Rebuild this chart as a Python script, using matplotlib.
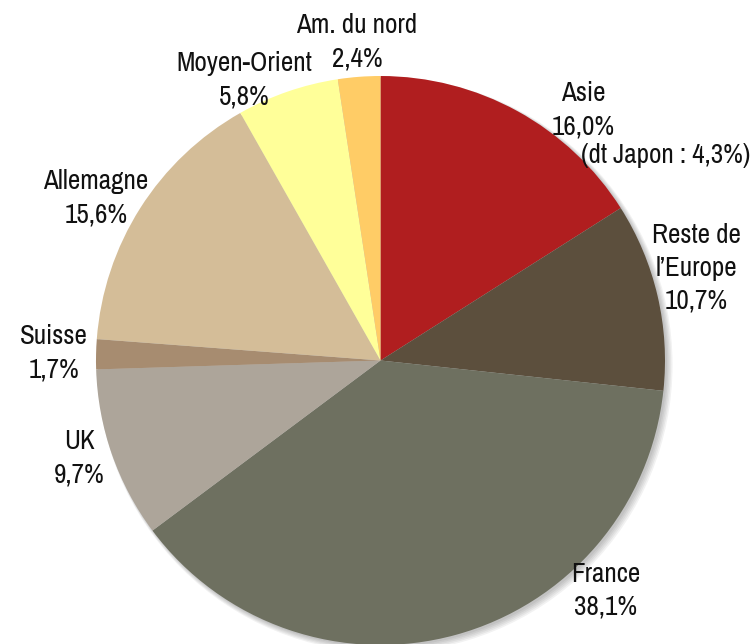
import matplotlib
matplotlib.use("Agg")
import matplotlib.pyplot as plt
from matplotlib.patches import Circle

categories = ["Asie", "Reste de\nl\u2019Europe", "France", "UK", "Suisse",
              "Allemagne", "Moyen-Orient", "Am. du nord"]
values = [16.0, 10.7, 38.1, 9.7, 1.7, 15.6, 5.8, 2.4]
value_labels = ["16,0%", "10,7%", "38,1%", "9,7%", "1,7%", "15,6%", "5,8%", "2,4%"]
extra_note = "(dt Japon : 4,3%)"
colors = ["#B01E1F", "#5C4F3D", "#6E7060", "#ADA59A", "#A78C70",
          "#D4BD98", "#FFFF99", "#FFCC66"]

W, H = 754, 644
fig = plt.figure(figsize=(W / 100, H / 100), dpi=100)
ax = fig.add_axes([0, 0, 1, 1])

cx, cy, r = 380.5, H - 360.5, 284.5

# soft shadow
for i in range(5):
    ax.add_patch(Circle((cx + 2 + i * 0.6, cy - 2 - i * 0.6), r + i * 0.8,
                        color="black", alpha=0.05, lw=0, zorder=0))

ax.pie(values, colors=colors, startangle=90, counterclock=False,
       center=(cx, cy), radius=r, frame=True,
       wedgeprops=dict(linewidth=0, antialiased=True))
ax.set_xlim(0, W)
ax.set_ylim(0, H)
ax.set_aspect("equal")
ax.axis("off")

font = dict(family=["Archivo Narrow", "DejaVu Sans"], fontsize=19.5, color="#111111")

# label centres in pixel coordinates (x, y from top)
label_pos = [(583, 110), (696, 268), (606, 591), (79, 458), (54, 353),
             (96, 198), (244, 80), (357, 42)]
for name, val, (x, y) in zip(categories, value_labels, label_pos):
    ax.text(x, H - y, f"{name}\n{val}", ha="center", va="center",
            linespacing=1.4, **font)
ax.text(666, H - 155, extra_note, ha="center", va="center", **font)

fig.savefig("out.png", dpi=100)
